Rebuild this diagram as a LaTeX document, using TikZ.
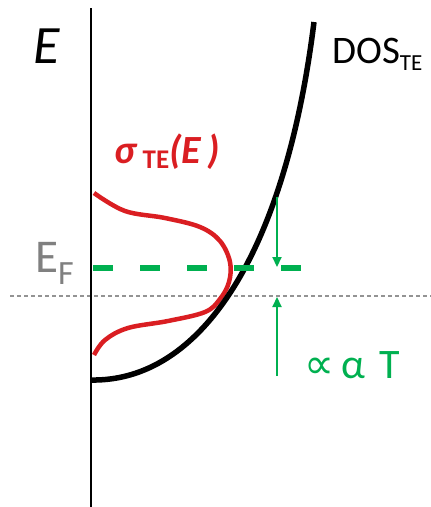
\documentclass[tikz,border=0pt]{standalone}
\usepackage{fontspec}
\setmainfont{Carlito}
\newfontfamily\symfont{DejaVu Sans}
\usepackage{tikz}
\usetikzlibrary{arrows.meta, positioning}

\definecolor{dosred}{RGB}{218,30,34}
\definecolor{tegreen}{RGB}{0,176,80}
\definecolor{efgray}{RGB}{128,128,128}

\begin{document}
\begin{tikzpicture}[
    x=1pt, y=-1pt,
    axis/.style={
        draw=black,
        line width=2pt
    },
    dos/.style={
        draw=black,
        line width=5.5pt
    },
    sigma/.style={
        draw=dosred,
        line width=4.5pt
    },
    fermi/.style={
        draw=tegreen,
        line width=5.5pt,
        dash pattern=on 20pt off 27pt
    },
    zero/.style={
        draw=efgray!85,
        line width=1.1pt,
        dash pattern=on 4pt off 3pt
    },
    tarrow/.style={
        -{Triangle[length=10pt,width=9pt]},
        draw=tegreen,
        fill=tegreen,
        line width=2.2pt
    },
    label/.style={
        inner sep=0pt,
        anchor=base west
    }
]
\useasboundingbox (0,0) rectangle (431,507);

% Nodes
\node (elab) [label] at (33,63) {\fontsize{54}{60}\selectfont\itshape E};
\node (doslab) [label] at (332,63) {\fontsize{39}{44}\selectfont DOS\raisebox{-7pt}{\fontsize{23}{26}\selectfont TE}};
\node (siglab) [label, text=dosred] at (114,163) {\fontsize{40}{44}\selectfont\bfseries\itshape
    σ\,\raisebox{-5pt}{\upshape\fontsize{27}{30}\selectfont TE}(E\,)};
\node (eflab) [label, text=efgray] at (35,272) {\fontsize{47}{52}\selectfont E\raisebox{-12pt}{\fontsize{34}{38}\selectfont F}};
\node (alphalab) [label, text=tegreen] at (304,378) {\fontsize{42}{46}\selectfont{\symfont ∝}\,α\,\,T};

\coordinate (axtop) at (91,8);
\coordinate (axbot) at (91,507);
\coordinate (zl) at (10,296);
\coordinate (zr) at (431,296);
\coordinate (fl) at (93,268);
\coordinate (fr) at (308,268);
\coordinate (ttop) at (277,197);
\coordinate (tfermi) at (277,267);
\coordinate (tbot) at (277,376);
\coordinate (tzero) at (277,297);
\coordinate (dosbot) at (91,380);
\coordinate (dostop) at (314,22);

% Paths
\draw [zero] (zl) -- (zr);
\draw [axis] (axtop) -- (axbot);
\draw [sigma] plot[smooth, tension=0.6] coordinates {
    (94,193) (125,211) (165,218) (200,227) (220,241) (230,262) (229,282)
    (220,299) (205,312) (168,321) (128,328) (105,340) (94,355)};
\draw [dos] (dosbot) .. controls (200,382) and (285,255) .. (dostop);
\draw [fermi] (fl) -- (fr);
\draw [tarrow] (ttop) -- (tfermi);
\draw [tarrow] (tbot) -- (tzero);

\end{tikzpicture}
\end{document}
